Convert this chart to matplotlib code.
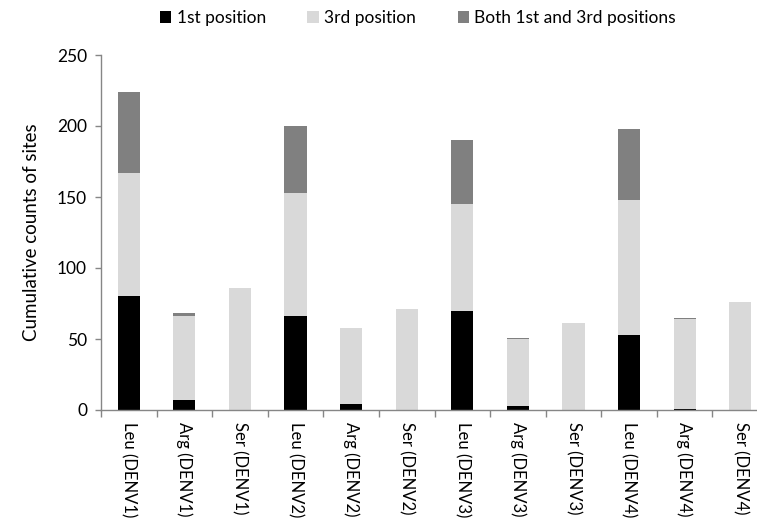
import matplotlib.pyplot as plt
import numpy as np

plt.rcParams['font.family'] = ['Lato', 'DejaVu Sans']

categories = ["Leu (DENV1)", "Arg (DENV1)", "Ser (DENV1)",
              "Leu (DENV2)", "Arg (DENV2)", "Ser (DENV2)",
              "Leu (DENV3)", "Arg (DENV3)", "Ser (DENV3)",
              "Leu (DENV4)", "Arg (DENV4)", "Ser (DENV4)"]
first_pos = [80, 7, 0, 66, 4, 0, 70, 3, 0, 53, 1, 0]
third_pos = [87, 59, 86, 87, 54, 71, 75, 47, 61, 95, 63, 76]
both_pos = [57, 2, 0, 47, 0, 0, 45, 1, 0, 50, 1, 0]

c_axis = "#868686"

fig = plt.figure(figsize=(7.57, 5.2), dpi=100)
# axes runs slightly past the right edge, as in the reference
ax = fig.add_axes([101 / 757, 110 / 520, 667 / 757, 355 / 520])

x = np.arange(len(categories))
w = 0.4
first = np.array(first_pos)
third = np.array(third_pos)
both = np.array(both_pos)
ax.bar(x, first, w, color="#000000", label="1st position")
ax.bar(x, third, w, bottom=first, color="#d9d9d9", label="3rd position")
ax.bar(x, both, w, bottom=first + third, color="#808080",
       label="Both 1st and 3rd positions")

ax.set_xlim(-0.5, len(categories) - 0.5)
ax.set_ylim(0, 250)
ax.set_yticks(range(0, 251, 50))
ax.tick_params(axis='y', labelsize=12.5, length=4, color=c_axis, width=1, pad=6)

# category separators as ticks, labels at the centres
ax.set_xticks(np.arange(-0.5, len(categories), 1.0))
ax.set_xticklabels([])
ax.set_xticks(x, minor=True)
ax.set_xticklabels(categories, minor=True, rotation=270, fontsize=12)
ax.tick_params(axis='x', which='major', length=5, color=c_axis, width=1)
ax.tick_params(axis='x', which='minor', length=0, pad=9)
for lab in ax.get_xticklabels(minor=True):
    lab.set_va('top')

for s in ['top', 'right']:
    ax.spines[s].set_visible(False)
for s in ['left', 'bottom']:
    ax.spines[s].set_color(c_axis)
    ax.spines[s].set_linewidth(1)

ax.set_ylabel("Cumulative counts of sites", fontsize=13.5, labelpad=12)

fig.legend(loc='center', bbox_to_anchor=(0.552, 0.965), ncol=3, frameon=False,
           fontsize=12.5, handlelength=0.65, handleheight=0.65, handletextpad=0.3,
           columnspacing=2.4)

fig.savefig("out.png", dpi=100)
